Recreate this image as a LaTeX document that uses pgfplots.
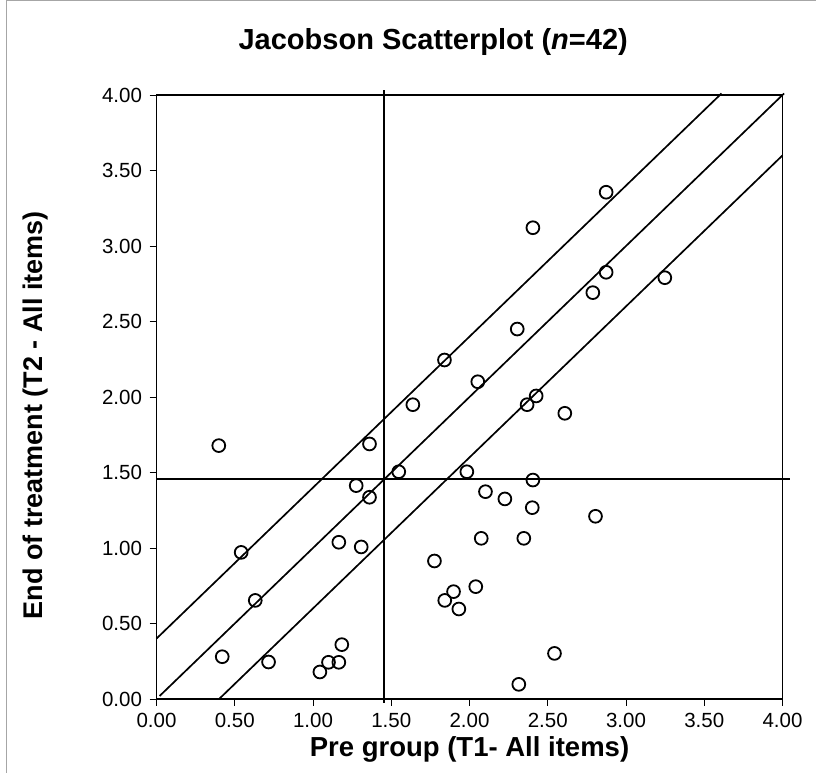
\documentclass[border=0pt]{standalone}
\usepackage{fontspec}
\setmainfont{Liberation Sans}
\usepackage{pgfplots}
\pgfplotsset{compat=1.18}
\begin{document}
\begin{tikzpicture}[x=1bp,y=1bp]
\useasboundingbox (0,0) rectangle (816,773);
\draw[gray!70, line width=1bp] (6.5,-2) -- (6.5,772.5) -- (820,772.5);
\begin{axis}[
  at={(156.5bp,74bp)}, anchor=south west,
  scale only axis, width=626bp, height=604bp,
  xmin=0, xmax=4, ymin=0, ymax=4,
  xtick={0,0.5,...,4}, ytick={0,0.5,...,4},
  xtick pos=bottom, ytick pos=left,
  tick align=outside, major tick length=7bp,
  axis line style={line width=1.8bp},
  every tick/.style={line width=0.9bp, black},
  /pgf/number format/assume math mode=true,
  xticklabel style={yshift=-4bp, /pgf/number format/.cd, fixed, fixed zerofill, precision=2},
  yticklabel style={xshift=-4bp, /pgf/number format/.cd, fixed, fixed zerofill, precision=2},
  tick label style={font=\fontsize{20.5bp}{22bp}\selectfont},
  clip=false,
  title={\textbf{Jacobson Scatterplot (\textit{n}=42)}},
  title style={font=\fontsize{29bp}{32bp}\selectfont, at={(axis description cs:0.442,1.066)}, anchor=base},
  xlabel={\textbf{Pre group (T1- All items)}},
  xlabel style={font=\fontsize{27.5bp}{30bp}\selectfont, at={(axis description cs:0.5,-0.096)}, anchor=base},
  ylabel={\textbf{End of treatment (T2 - All items)}},
  ylabel style={font=\fontsize{27bp}{30bp}\selectfont, at={(axis description cs:-0.193,0.470)}, anchor=center},
]
% reference lines
\addplot[black, line width=1.8bp] coordinates {(1.452,4.033) (1.452,-0.026)};
\addplot[black, line width=1.8bp] coordinates {(0,1.455) (4.045,1.455)};
\addplot[black, line width=1.7bp] coordinates {(0,0.40) (3.61,4.01)};
\addplot[black, line width=1.7bp] coordinates {(0.02,0.02) (4.01,4.01)};
\addplot[black, line width=1.7bp] coordinates {(0.40,0) (4.0,3.60)};
% data
\addplot[only marks, mark=o, mark size=6.4bp, mark options={line width=1.8bp, black}] coordinates {
(0.398,1.678) (1.638,1.949) (1.361,1.689) (1.548,1.505) (1.983,1.505)
(2.102,1.373) (1.276,1.413) (1.361,1.336) (0.541,0.971) (1.165,1.038)
(1.308,1.007) (2.075,1.064) (1.776,0.914) (0.631,0.653) (1.898,0.711)
(1.842,0.653) (1.932,0.596) (2.040,0.744) (0.420,0.280) (0.716,0.245)
(1.184,0.360) (1.099,0.243) (1.165,0.243) (1.044,0.179) (2.426,2.007)
(2.368,1.949) (2.609,1.892) (2.405,1.450) (2.226,1.325) (2.401,1.267)
(2.805,1.210) (2.347,1.064) (2.543,0.302) (2.315,0.097) (2.873,3.356)
(2.405,3.121) (2.873,2.826) (2.788,2.691) (3.248,2.790) (2.305,2.450)
(2.053,2.101) (1.840,2.245)
};
\end{axis}
\end{tikzpicture}
\end{document}
